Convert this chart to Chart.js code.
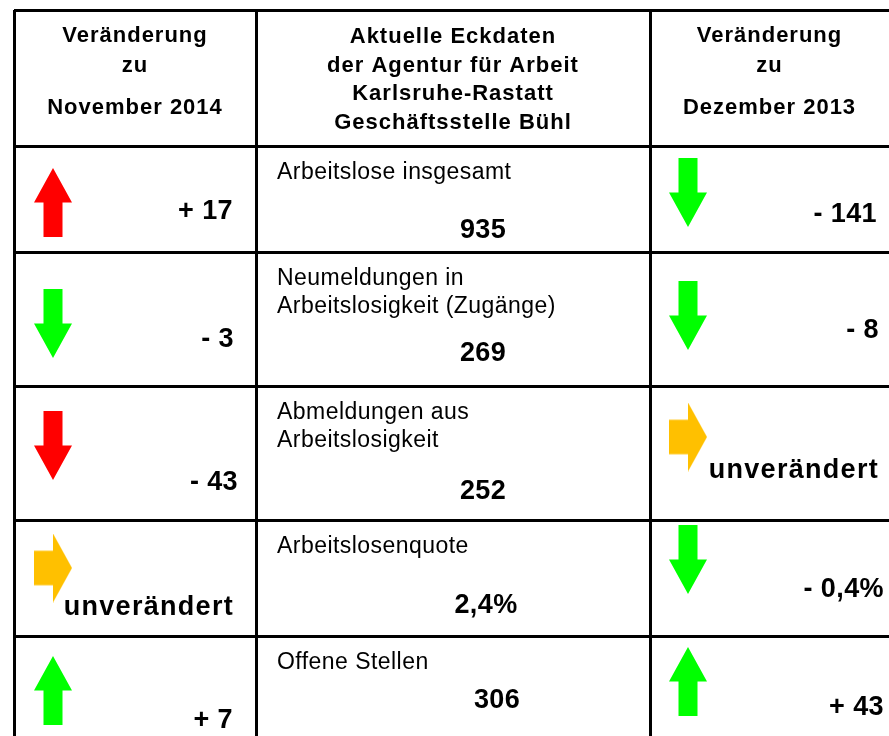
<!DOCTYPE html>
<html lang="de">
<head>
<meta charset="utf-8">
<title>Eckdaten Geschäftsstelle Bühl</title>
<script src="https://cdn.jsdelivr.net/npm/chart.js@4.4.1/dist/chart.umd.min.js"></script>
<style>
  html, body { margin: 0; padding: 0; background: #fff; }
  #wrap { width: 889px; height: 736px; }
</style>
</head>
<body>
<div id="wrap"><canvas id="eckChart" width="889" height="736"></canvas></div>
<script>
// ── Daten ──
var categories = [
  ['Arbeitslose insgesamt'],
  ['Neumeldungen in', 'Arbeitslosigkeit (Zugänge)'],
  ['Abmeldungen aus', 'Arbeitslosigkeit'],
  ['Arbeitslosenquote'],
  ['Offene Stellen']
];
var currentValues = [935, 269, 252, 2.4, 306];
var isRate = [false, false, false, true, false];
var changeVsNov2014 = [17, -3, -43, 0, 7];
var changeVsDez2013 = [-141, -8, 0, -0.4, 43];
// -1: Rückgang ist gut (grün), +1: Anstieg ist gut
var polarity = [-1, -1, 1, -1, 1];

var headLeft = ['Veränderung', 'zu', 'November 2014'];
var headMid = ['Aktuelle Eckdaten', 'der Agentur für Arbeit', 'Karlsruhe-Rastatt', 'Geschäftsstelle Bühl'];
var headRight = ['Veränderung', 'zu', 'Dezember 2013'];

// ── Raster / Layout (Achseneinheiten = Pixel) ──
var colEdges = [14, 256, 650];
var rowEdges = [10, 146, 252, 386, 520, 636];
var layout = {
  xMax: 889,
  yMax: 736,
  arrowX: [53, 688],
  arrowDy: [[56.5, 71.5, 59.5, 48, 54.5], [46.5, 63.5, 51, 39.5, 45.5]],
  changeRight: [[233, 234, 238, 234, 233], [877, 879, 879, 884, 884]],
  changeDy: [[73, 95, 104, 95, 92], [76, 86, 92, 77, 79]],
  labelX: 277,
  labelDy: 33,
  lineH: 28,
  valueX: 483,
  valueNudge: [0, 0, 0, 3, 14],
  valueDy: [92, 109, 113, 93, 72],
  headBase: [42, 72, 114],
  headMidBase: [43, 71.5, 100, 128.5]
};

var FONT = '"Liberation Sans", Arial, Helvetica, sans-serif';
var colors = { up: '#00FF00', down: '#FF0000', flat: '#FFC000' };

// ── Hilfsfunktionen ──
function trendColor(change, pol) {
  var s = change * pol;
  if (s > 0) return colors.up;
  if (s < 0) return colors.down;
  return colors.flat;
}

function arrowDir(change) {
  return change > 0 ? 'up' : (change < 0 ? 'down' : 'right');
}

function fmtNum(v, rate) {
  var s = String(Math.abs(v)).replace('.', ',');
  return rate ? s + '%' : s;
}

function fmtChange(v, rate) {
  if (v === 0) return 'unverändert';
  return (v > 0 ? '+ ' : '- ') + fmtNum(v, rate);
}

// Pfeil als Canvas-Punktstil
var arrowCache = {};
function makeArrow(dir, color) {
  var key = dir + color;
  if (arrowCache[key]) return arrowCache[key];
  var w = 38, h = 69;
  var c = document.createElement('canvas');
  c.width = w;
  c.height = h;
  var g = c.getContext('2d');
  g.fillStyle = color;
  g.beginPath();
  if (dir === 'up') {
    g.moveTo(w / 2, 0); g.lineTo(w, h / 2); g.lineTo(w * 0.75, h / 2);
    g.lineTo(w * 0.75, h); g.lineTo(w * 0.25, h); g.lineTo(w * 0.25, h / 2);
    g.lineTo(0, h / 2);
  } else if (dir === 'down') {
    g.moveTo(w / 2, h); g.lineTo(w, h / 2); g.lineTo(w * 0.75, h / 2);
    g.lineTo(w * 0.75, 0); g.lineTo(w * 0.25, 0); g.lineTo(w * 0.25, h / 2);
    g.lineTo(0, h / 2);
  } else {
    g.moveTo(w, h / 2); g.lineTo(w / 2, 0); g.lineTo(w / 2, h * 0.25);
    g.lineTo(0, h * 0.25); g.lineTo(0, h * 0.75); g.lineTo(w / 2, h * 0.75);
    g.lineTo(w / 2, h);
  }
  g.closePath();
  g.fill();
  arrowCache[key] = c;
  return c;
}

function arrowPoints(changes, col) {
  return changes.map(function(ch, i) {
    return { x: layout.arrowX[col], y: rowEdges[i + 1] + layout.arrowDy[col][i] };
  });
}

function arrowStyles(changes) {
  return changes.map(function(ch, i) {
    return makeArrow(arrowDir(ch), trendColor(ch, polarity[i]));
  });
}

function drawText(ctx, text, x, y, font, align, spacing) {
  ctx.save();
  ctx.font = font;
  ctx.letterSpacing = spacing || '0px';
  ctx.textAlign = align;
  ctx.textBaseline = 'alphabetic';
  ctx.fillStyle = '#000';
  ctx.fillText(text, x, y);
  ctx.restore();
}

// ── Texte der Tabelle ──
var tableText = {
  id: 'tableText',
  afterDatasetsDraw: function(chart) {
    var ctx = chart.ctx;
    var xs = chart.scales.x, ys = chart.scales.y;
    var headFont = 'bold 22px ' + FONT;

    // Kopfzeile
    var cLeft = xs.getPixelForValue((colEdges[0] + colEdges[1]) / 2);
    var cMid = xs.getPixelForValue((colEdges[1] + colEdges[2]) / 2);
    var cRight = xs.getPixelForValue((colEdges[2] + layout.xMax) / 2);
    headLeft.forEach(function(t, i) {
      drawText(ctx, t, cLeft, ys.getPixelForValue(layout.headBase[i]), headFont, 'center', '1px');
    });
    headRight.forEach(function(t, i) {
      drawText(ctx, t, cRight, ys.getPixelForValue(layout.headBase[i]), headFont, 'center', '1px');
    });
    headMid.forEach(function(t, i) {
      drawText(ctx, t, cMid, ys.getPixelForValue(layout.headMidBase[i]), headFont, 'center', '1px');
    });

    // Zeilen
    categories.forEach(function(lines, i) {
      var top = rowEdges[i + 1];
      lines.forEach(function(line, j) {
        drawText(ctx, line, xs.getPixelForValue(layout.labelX),
          ys.getPixelForValue(top + layout.labelDy + j * layout.lineH),
          '23px ' + FONT, 'left', '0.45px');
      });

      drawText(ctx, fmtNum(currentValues[i], isRate[i]),
        xs.getPixelForValue(layout.valueX + layout.valueNudge[i]),
        ys.getPixelForValue(top + layout.valueDy[i]),
        'bold 27px ' + FONT, 'center', '0.4px');

      [changeVsNov2014, changeVsDez2013].forEach(function(series, col) {
        var v = series[i];
        drawText(ctx, fmtChange(v, isRate[i]),
          xs.getPixelForValue(layout.changeRight[col][i]),
          ys.getPixelForValue(top + layout.changeDy[col][i]),
          'bold 27px ' + FONT, 'right', v === 0 ? '1.3px' : '0.4px');
      });
    });
  }
};

// ── Diagramm ──
var ctx = document.getElementById('eckChart').getContext('2d');
var chart = new Chart(ctx, {
  type: 'scatter',
  data: {
    datasets: [{
      label: 'Veränderung zu November 2014',
      data: arrowPoints(changeVsNov2014, 0),
      pointStyle: arrowStyles(changeVsNov2014),
      pointRadius: 20,
      pointHoverRadius: 20,
      borderWidth: 0
    }, {
      label: 'Veränderung zu Dezember 2013',
      data: arrowPoints(changeVsDez2013, 1),
      pointStyle: arrowStyles(changeVsDez2013),
      pointRadius: 20,
      pointHoverRadius: 20,
      borderWidth: 0
    }]
  },
  options: {
    responsive: false,
    animation: false,
    events: [],
    layout: {
      autoPadding: false,
      padding: { left: colEdges[0], top: rowEdges[0], right: 0, bottom: 0 }
    },
    plugins: {
      legend: { display: false },
      tooltip: { enabled: false }
    },
    scales: {
      x: {
        type: 'linear',
        min: colEdges[0],
        max: layout.xMax,
        afterBuildTicks: function(scale) {
          scale.ticks = colEdges.map(function(v) { return { value: v }; });
        },
        ticks: { display: false },
        grid: { color: '#000', lineWidth: 3, drawTicks: false },
        border: { display: false }
      },
      y: {
        type: 'linear',
        reverse: true,
        min: rowEdges[0],
        max: layout.yMax,
        afterBuildTicks: function(scale) {
          scale.ticks = rowEdges.map(function(v) { return { value: v }; });
        },
        ticks: { display: false },
        grid: { color: '#000', lineWidth: 3, drawTicks: false },
        border: { display: false }
      }
    }
  },
  plugins: [tableText]
});
</script>
</body>
</html>
